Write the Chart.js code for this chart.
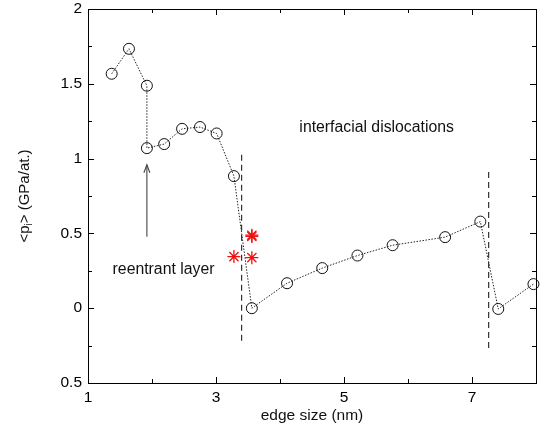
<!DOCTYPE html>
<html><head><meta charset="utf-8">
<script src="https://cdn.jsdelivr.net/npm/chart.js@4/dist/chart.umd.min.js"></script>
<style>html,body{margin:0;padding:0;background:#fff}canvas{display:block}</style>
</head><body>
<canvas id="c" width="547" height="432"></canvas>
<script>
// ---- data ----
const edgeSize = [1.37, 1.64, 1.92, 1.92, 2.19, 2.47, 2.75, 3.01, 3.28, 3.56, 4.11, 4.66, 5.21, 5.76, 6.58, 7.13, 7.41, 7.96];
const pressure = [1.567, 1.734, 1.487, 1.070, 1.097, 1.199, 1.211, 1.168, 0.883, 0.0, 0.167, 0.268, 0.352, 0.421, 0.475, 0.579, -0.005, 0.161];
const starEdge = [3.56, 3.56, 3.28, 3.56];
const starPressure = [0.480, 0.488, 0.345, 0.338];
const boundary1Edge = [3.40, 3.40];
const boundary1P = [1.025, -0.223];
const boundary2Edge = [7.26, 7.26];
const boundary2P = [0.910, -0.268];
const arrowEdge = [1.92, 1.92];
const arrowP = [0.477, 0.959];
const xTickValues = [1, 3, 5, 7];
const xTickLabels = ['1', '3', '5', '7'];
const xMinorTicks = [2, 3, 4, 5, 6, 7];
const yTickValues = [-0.5, 0, 0.5, 1, 1.5, 2];
const yTickLabels = ['0.5', '0', '0.5', '1', '1.5', '2'];
const yMinorTicks = [-0.25, 0, 0.25, 0.5, 0.75, 1, 1.25, 1.5, 1.75];
const yMajorTicks = [0, 0.5, 1, 1.5];
const notes = [
  {text: 'interfacial dislocations', x: 5.51, y: 1.206},
  {text: 'reentrant layer', x: 2.18, y: 0.256}
];
const xTitle = 'edge size (nm)';
const yTitleParts = ['<p', 'i', '> (GPa/at.)'];

const FONT = "'Liberation Sans', Arial, Helvetica, sans-serif";
const pts = (xs, ys) => xs.map((x, i) => ({x, y: ys[i]}));

const decor = {
  id: 'decor',
  afterDatasetsDraw(chart) {
    const {ctx, chartArea: a, scales: {x, y}} = chart;
    ctx.save();
    // arrow head
    const tx = x.getPixelForValue(arrowEdge[1]), ty = y.getPixelForValue(arrowP[1]);
    ctx.strokeStyle = '#444'; ctx.lineWidth = 1.1;
    ctx.beginPath();
    ctx.moveTo(tx - 3, ty + 8); ctx.lineTo(tx, ty); ctx.lineTo(tx + 3, ty + 8);
    ctx.stroke();
    // frame
    ctx.strokeStyle = '#000'; ctx.lineWidth = 1;
    ctx.strokeRect(Math.round(a.left) + 0.5, Math.round(a.top) + 0.5, Math.round(a.right - a.left), Math.round(a.bottom - a.top));
    // ticks
    ctx.beginPath();
    xMinorTicks.forEach(v => {
      const px = Math.round(x.getPixelForValue(v)) + 0.5;
      const L = xTickValues.includes(v) ? 6 : 4;
      ctx.moveTo(px, a.bottom); ctx.lineTo(px, a.bottom - L);
      ctx.moveTo(px, a.top); ctx.lineTo(px, a.top + L);
    });
    yMinorTicks.forEach(v => {
      const py = Math.round(y.getPixelForValue(v)) + 0.5;
      const L = yMajorTicks.includes(v) ? 6 : 4;
      ctx.moveTo(a.left, py); ctx.lineTo(a.left + L, py);
      ctx.moveTo(a.right, py); ctx.lineTo(a.right - L, py);
    });
    ctx.stroke();
    // notes
    ctx.fillStyle = '#111';
    ctx.font = '15.8px ' + FONT;
    ctx.textAlign = 'center'; ctx.textBaseline = 'middle';
    notes.forEach(n => ctx.fillText(n.text, x.getPixelForValue(n.x), y.getPixelForValue(n.y)));
    // y title with subscript
    ctx.translate(25, (a.top + a.bottom) / 2);
    ctx.rotate(-Math.PI / 2);
    const f1 = '15px ' + FONT, f2 = '10px ' + FONT;
    ctx.font = f1; const w1 = ctx.measureText(yTitleParts[0]).width, w3 = ctx.measureText(yTitleParts[2]).width;
    ctx.font = f2; const w2 = ctx.measureText(yTitleParts[1]).width;
    let cx = -(w1 + w2 + w3) / 2;
    ctx.textAlign = 'left';
    ctx.font = f1; ctx.fillText(yTitleParts[0], cx, 0); cx += w1;
    ctx.font = f2; ctx.fillText(yTitleParts[1], cx, 4); cx += w2;
    ctx.font = f1; ctx.fillText(yTitleParts[2], cx, 0);
    ctx.restore();
  }
};

new Chart(document.getElementById('c'), {
  type: 'scatter',
  data: {
    datasets: [
      {data: pts(boundary1Edge, boundary1P), showLine: true, borderColor: '#333', borderWidth: 1.2, borderDash: [6, 4], pointRadius: 0},
      {data: pts(boundary2Edge, boundary2P), showLine: true, borderColor: '#333', borderWidth: 1.2, borderDash: [6, 4], pointRadius: 0},
      {data: pts(arrowEdge, arrowP), showLine: true, borderColor: '#444', borderWidth: 1.1, pointRadius: 0},
      {data: pts(edgeSize, pressure), showLine: true, borderColor: '#222', borderWidth: 1, borderDash: [1.5, 1.5],
       pointStyle: 'circle', pointRadius: 5.5, pointBorderWidth: 1, pointBorderColor: '#111', pointBackgroundColor: 'rgba(0,0,0,0)', clip: false},
      {data: pts(starEdge, starPressure), showLine: false, pointStyle: 'star', pointRadius: 6.5, pointBorderWidth: 1.3, pointBorderColor: '#f01010', pointBackgroundColor: '#f01010'}
    ]
  },
  options: {
    responsive: false, animation: false, devicePixelRatio: 1,
    layout: {padding: {top: 9, right: 11, left: 0, bottom: 0}},
    plugins: {legend: {display: false}, tooltip: {enabled: false}},
    scales: {
      x: {
        type: 'linear', min: 1, max: 8,
        grid: {display: false, drawTicks: false}, border: {display: false},
        afterFit(s) { s.height = 49; s.paddingLeft = 0; s.paddingRight = 0; },
        afterBuildTicks(s) { s.ticks = xTickValues.map(v => ({value: v})); },
        ticks: {padding: 5, color: '#000', autoSkip: false, maxRotation: 0, font: {family: FONT, size: 15.5},
                callback: v => xTickLabels[xTickValues.indexOf(v)] ?? ''},
        title: {display: true, text: xTitle, color: '#111', font: {family: FONT, size: 15.5}, padding: {top: 0, bottom: 7}}
      },
      y: {
        type: 'linear', min: -0.5, max: 2,
        grid: {display: false, drawTicks: false}, border: {display: false},
        afterFit(s) { s.width = 88; s.paddingTop = 0; s.paddingBottom = 0; },
        afterBuildTicks(s) { s.ticks = yTickValues.map(v => ({value: v})); },
        ticks: {padding: 6, color: '#000', autoSkip: false, font: {family: FONT, size: 15.5},
                callback: v => yTickLabels[yTickValues.indexOf(v)] ?? ''}
      }
    }
  },
  plugins: [decor]
});
</script>
</body></html>
